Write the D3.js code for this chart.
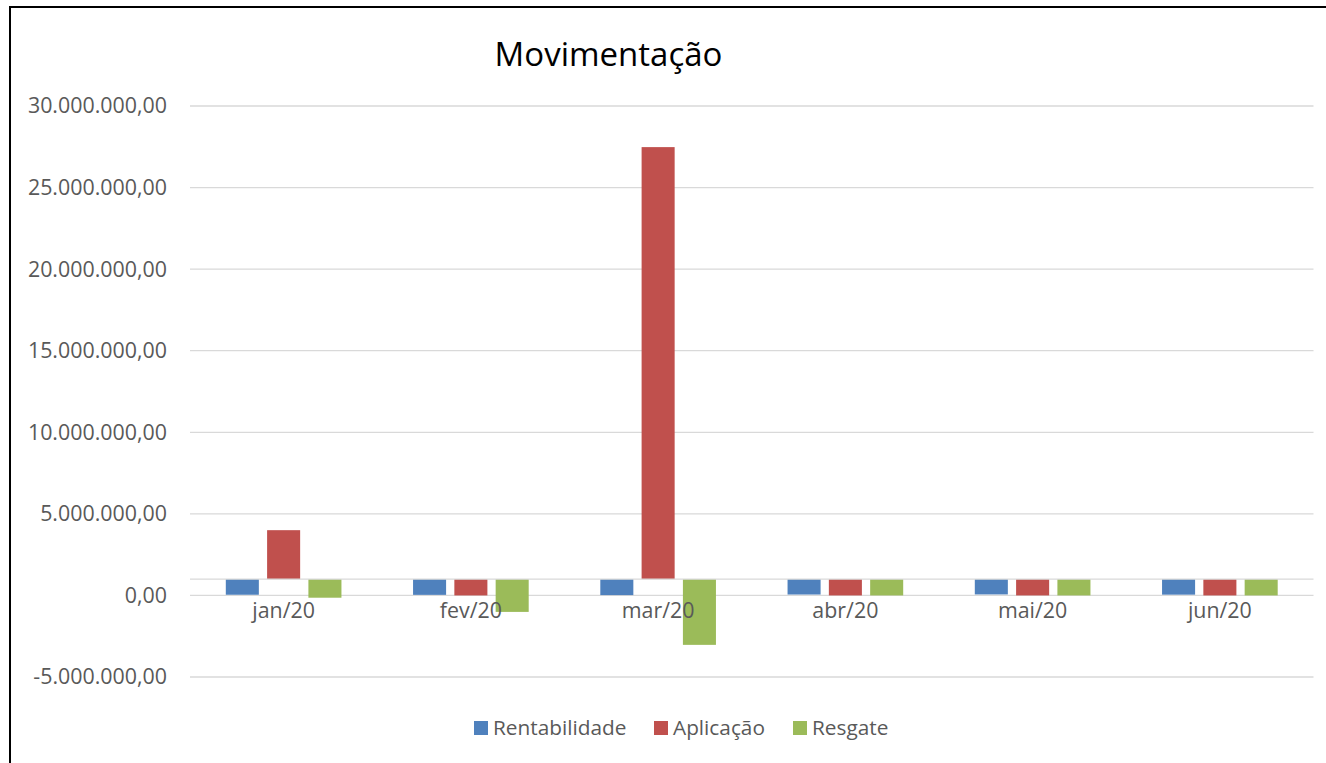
<!DOCTYPE html>
<html>
<head>
<meta charset="utf-8">
<script src="https://cdn.jsdelivr.net/npm/d3@7"></script>
<style>
  html, body { margin: 0; padding: 0; background: #fff; overflow: hidden; }
  svg { display: block; }
</style>
</head>
<body>
<div id="chart"></div>
<script>
// Movimentação - clustered columns, horizontal axis crossing at 1.000.000
const categories = ['jan/20', 'fev/20', 'mar/20', 'abr/20', 'mai/20', 'jun/20'];
const seriesNames = ['Rentabilidade', 'Aplicação', 'Resgate'];
const rentabilidade = [42000, 35000, 20000, 55000, 61000, 47000];
const aplicacao = [4000000, 0, 27480000, 0, 0, 0];
const resgate = [-140000, -1010000, -3030000, 0, 0, 0];
const yTicks = [-5000000, 0, 5000000, 10000000, 15000000, 20000000, 25000000, 30000000];
const axisCross = 1000000;

const colors = ['#4F81BD', '#C0504D', '#9BBB59'];
const seriesValues = [rentabilidade, aplicacao, resgate];

const width = 1326, height = 763;
const svg = d3.select('#chart').append('svg')
    .attr('width', width)
    .attr('height', height);

// chart border (right/bottom edges fall outside the picture)
svg.append('rect')
    .attr('x', 10).attr('y', 7)
    .attr('width', 1400).attr('height', 900)
    .attr('fill', 'none')
    .attr('stroke', '#000')
    .attr('stroke-width', 2);

const x0 = d3.scaleBand()
    .domain(categories)
    .range([190, 1313.5])
    .padding(0);

const x1 = d3.scaleBand()
    .domain(seriesNames)
    .range([0, x0.bandwidth()])
    .paddingInner(0.2)
    .paddingOuter(0.867);

const y = d3.scaleLinear()
    .domain([-5000000, 30000000])
    .range([677, 106]);

const fmt = v => {
    const s = d3.format(',.2f')(v);
    return s.replace(/,/g, '#').replace('.', ',').replace(/#/g, '.').replace('−', '-');
};

// gridlines
svg.append('g')
    .selectAll('line')
    .data(yTicks)
    .enter()
    .append('line')
    .attr('x1', 190).attr('x2', 1313.5)
    .attr('y1', d => y(d)).attr('y2', d => y(d))
    .attr('stroke', '#D9D9D9')
    .attr('stroke-width', 1.3);

// y labels
svg.append('g')
    .selectAll('text')
    .data(yTicks)
    .enter()
    .append('text')
    .attr('x', 167)
    .attr('y', d => y(d))
    .attr('dy', '0.35em')
    .attr('text-anchor', 'end')
    .attr('font-family', 'Open Sans, sans-serif')
    .attr('font-size', '21.4px')
    .attr('fill', '#595959')
    .text(d => fmt(d));

// bars
const rows = categories.map((c, i) => ({
    cat: c,
    vals: seriesNames.map((s, j) => ({ name: s, value: seriesValues[j][i], color: colors[j] }))
}));

const groups = svg.append('g')
    .selectAll('g')
    .data(rows)
    .enter()
    .append('g')
    .attr('transform', d => `translate(${x0(d.cat)},0)`);

groups.selectAll('rect')
    .data(d => d.vals)
    .enter()
    .append('rect')
    .attr('x', d => x1(d.name))
    .attr('width', x1.bandwidth())
    .attr('y', d => Math.min(y(d.value), y(axisCross)))
    .attr('height', d => Math.abs(y(d.value) - y(axisCross)))
    .attr('fill', d => d.color);

// horizontal axis line
svg.append('line')
    .attr('x1', 190).attr('x2', 1313.5)
    .attr('y1', y(axisCross)).attr('y2', y(axisCross))
    .attr('stroke', '#D9D9D9')
    .attr('stroke-width', 1.3);

// category labels
svg.append('g')
    .selectAll('text')
    .data(categories)
    .enter()
    .append('text')
    .attr('x', d => x0(d) + x0.bandwidth() / 2)
    .attr('y', 611)
    .attr('dy', '0.35em')
    .attr('text-anchor', 'middle')
    .attr('font-family', 'Open Sans, sans-serif')
    .attr('font-size', '21.4px')
    .attr('fill', '#595959')
    .text(d => d);

// title
svg.append('text')
    .attr('x', 608.5)
    .attr('y', 66)
    .attr('text-anchor', 'middle')
    .attr('font-family', 'Open Sans, sans-serif')
    .attr('font-size', '33px')
    .attr('fill', '#000')
    .text('Movimentação');

// legend
const legendX = [474, 654, 793];
const legend = svg.append('g')
    .selectAll('g')
    .data(seriesNames)
    .enter()
    .append('g')
    .attr('transform', (d, i) => `translate(${legendX[i]},728)`);

legend.append('rect')
    .attr('x', 0).attr('y', -7)
    .attr('width', 14).attr('height', 14)
    .attr('fill', (d, i) => colors[i]);

legend.append('text')
    .attr('x', 19)
    .attr('y', 0)
    .attr('dy', '0.35em')
    .attr('font-family', 'Open Sans, sans-serif')
    .attr('font-size', '20.8px')
    .attr('fill', '#595959')
    .text(d => d);
</script>
</body>
</html>
